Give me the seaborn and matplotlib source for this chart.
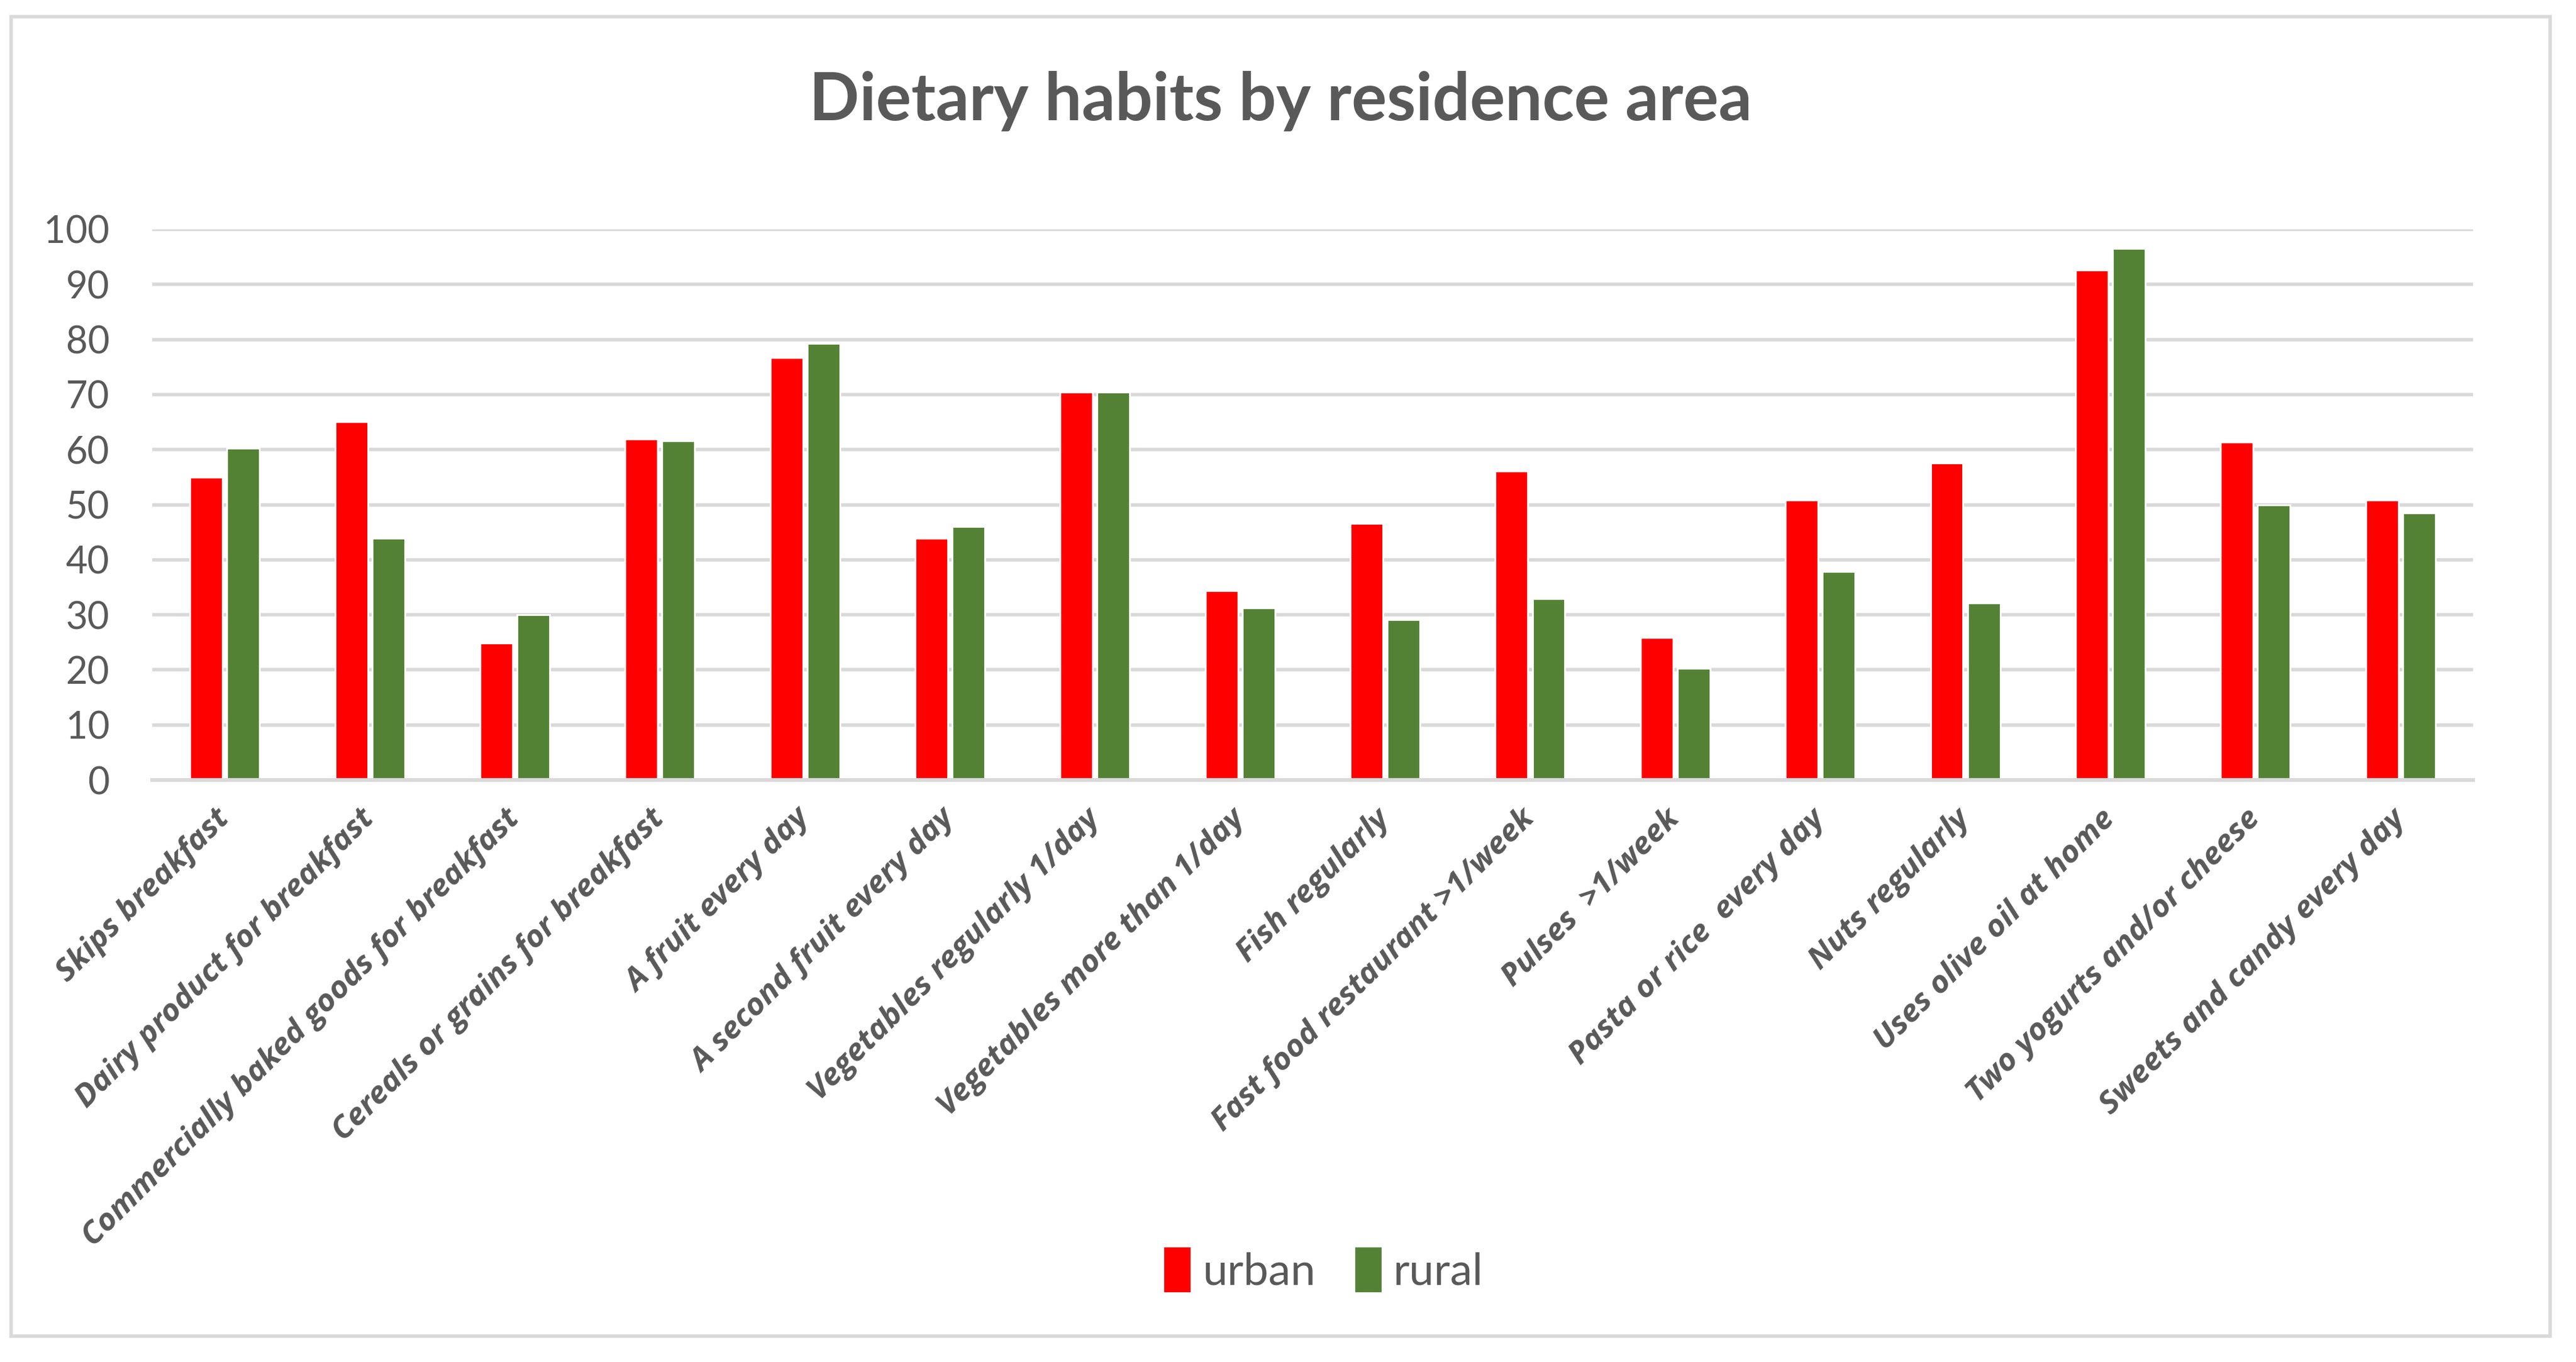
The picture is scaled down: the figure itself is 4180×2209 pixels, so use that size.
import matplotlib
matplotlib.use("Agg")
import matplotlib.pyplot as plt
import pandas as pd
import seaborn as sns
from matplotlib.patches import Rectangle

categories = [
    "Skips breakfast",
    "Dairy product for breakfast",
    "Commercially baked goods for breakfast",
    "Cereals or grains for breakfast",
    "A fruit every day",
    "A second fruit every day",
    "Vegetables regularly 1/day",
    "Vegetables more than 1/day",
    "Fish regularly",
    "Fast food restaurant >1/week",
    "Pulses  >1/week",
    "Pasta or rice  every day",
    "Nuts regularly",
    "Uses olive oil at home",
    "Two yogurts and/or cheese",
    "Sweets and candy every day",
]
urban = [55.0, 65.1, 24.9, 61.9, 76.7, 43.9, 70.4, 34.4, 46.6, 56.1, 25.9, 50.9, 57.6, 92.6, 61.4, 50.9]
rural = [60.2, 43.9, 30.0, 61.6, 79.3, 46.0, 70.4, 31.2, 29.1, 32.9, 20.3, 37.9, 32.1, 96.5, 49.9, 48.5]
series = ["urban", "rural"]
colors = {"urban": "#FF0000", "rural": "#548235"}

df = pd.DataFrame({
    "item": categories * 2,
    "pct": urban + rural,
    "area": ["urban"] * len(categories) + ["rural"] * len(categories),
})

sns.set_style("white")
plt.rcParams["font.family"] = ["Lato", "DejaVu Sans"]
txt = "#595959"
grid = "#D9D9D9"

fig = plt.figure(figsize=(20.9, 11.045), dpi=200)
ax = fig.add_axes([0.0591, 0.4273, 0.9009, 0.4043])

sns.barplot(data=df, x="item", y="pct", hue="area", hue_order=series,
            palette=colors, width=0.51, gap=0.118, order=categories,
            saturation=1, ax=ax, legend=False)

ax.set_xlim(-0.5, len(categories) - 0.5)
ax.set_ylim(0, 100)
ax.set_yticks(range(0, 101, 10))
ax.yaxis.grid(True, color=grid, linewidth=2.0)
ax.set_axisbelow(True)
for s in ["top", "right", "left"]:
    ax.spines[s].set_visible(False)
ax.spines["bottom"].set_color(grid)
ax.spines["bottom"].set_linewidth(2.2)
ax.set_xlabel("")
ax.set_ylabel("")
ax.tick_params(axis="y", length=0, pad=25, labelsize=22, labelcolor=txt)
ax.tick_params(axis="x", length=0, pad=20)
ax.set_xticks(range(len(categories)))
ax.set_xticklabels(categories, rotation=45, ha="right", va="center",
                   rotation_mode="anchor", fontsize=18.5, fontweight="bold",
                   fontstyle="italic", color=txt, family=["Open Sans", "DejaVu Sans"])

fig.text(0.497, 0.9258, "Dietary habits by residence area", ha="center", va="center",
         fontsize=38.5, fontweight="bold", color=txt)

handles = [Rectangle((0, 0), 1, 1, color=colors[s]) for s in series]
fig.legend(handles, series, loc="center", bbox_to_anchor=(0.514, 0.0675), ncol=2,
           frameon=False, fontsize=26, labelcolor=txt, handlelength=0.55,
           handleheight=1.1, handletextpad=0.3, columnspacing=0.9)

fig.patches.append(Rectangle((18 / 4180, 1 - 2167 / 2209), 4120 / 4180, 2140 / 2209,
                             transform=fig.transFigure, fill=False,
                             edgecolor=grid, linewidth=2.0))

fig.savefig("out.png", dpi=200, facecolor="white")
